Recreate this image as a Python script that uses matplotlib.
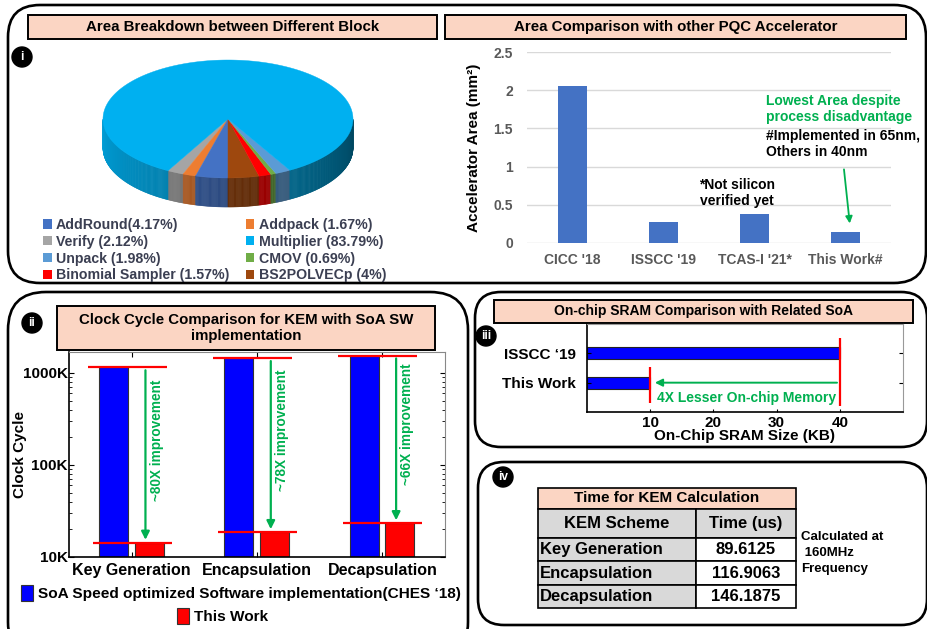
"""Composite figure: area, clock-cycle, SRAM and timing comparison"""

import numpy as np
import matplotlib.pyplot as plt
from matplotlib.patches import FancyBboxPatch, Rectangle, Circle, Polygon, Patch
from matplotlib.collections import PolyCollection
from matplotlib.colors import to_rgb

W, H = 928, 629

# ---- data ----
pie_labels = ["AddRound(4.17%)", "Addpack (1.67%)", "Verify (2.12%)", "Multiplier (83.79%)",
              "Unpack (1.98%)", "CMOV (0.69%)", "Binomial Sampler (1.57%)", "BS2POLVECp (4%)"]
pie_share = [4.17, 1.67, 2.12, 83.79, 1.98, 0.69, 1.57, 4.0]
pie_colors = ["#4472C4", "#ED7D31", "#A5A5A5", "#00B0F0",
              "#5B9BD5", "#70AD47", "#FF0000", "#9E480E"]
# slice order around the pie (counter-clockwise, starting left of the front)
pie_order = [2, 1, 0, 7, 6, 5, 4, 3]
# legend order (two columns, filled column by column)
legend_order = [0, 2, 4, 6, 1, 3, 5, 7]

area_names = ["CICC '18", "ISSCC '19", "TCAS-I '21*", "This Work#"]
area_mm2 = [2.05, 0.27, 0.38, 0.14]

kem_ops = ["Key Generation", "Encapsulation", "Decapsulation"]
soa_cycles = [1147e3, 1444e3, 1543e3]
ours_cycles = [14338, 18705, 23390]
improve = ["~80X improvement", "~78X improvement", "~66X improvement"]

sram_names = ["ISSCC \u201819", "This Work"]
sram_kb = [40, 10]

table_head = ["KEM Scheme", "Time (us)"]
table_rows = [["Key Generation", "89.6125"],
              ["Encapsulation", "116.9063"],
              ["Decapsulation", "146.1875"]]

GREEN = "#00B050"
PINK = "#FBD5C3"

plt.rcParams['font.family'] = ['Liberation Sans', 'DejaVu Sans']
plt.rcParams['font.weight'] = 'bold'


def rect(x0, y0, x1, y1):
    # pixel box (top-left origin) -> figure fraction
    return [x0 / W, 1 - y1 / H, (x1 - x0) / W, (y1 - y0) / H]


fig = plt.figure(figsize=(9.28, 6.29), dpi=100)
bg = fig.add_axes([0, 0, 1, 1])
bg.set_xlim(0, W)
bg.set_ylim(H, 0)
bg.axis('off')


def panel(x0, y0, x1, y1, r):
    bg.add_patch(FancyBboxPatch((x0, y0), x1 - x0, y1 - y0,
                                boxstyle=f"round,pad=0,rounding_size={r}",
                                fc='white', ec='black', lw=1.9))


def title_box(x0, y0, x1, y1, txt, fs=11):
    bg.add_patch(Rectangle((x0, y0), x1 - x0, y1 - y0, fc=PINK, ec='black', lw=1.4))
    bg.text((x0 + x1) / 2, (y0 + y1) / 2, txt, ha='center', va='center',
            fontsize=fs, fontweight='bold', linespacing=1.2)


def badge(x, y, s):
    bg.add_patch(Circle((x, y), 10, fc='black', ec='black'))
    bg.text(x, y, s, color='white', ha='center', va='center', fontsize=8.5,
            fontweight='bold')


# panels
panel(8, 5, 926, 283, 32)
panel(8, 292, 468, 660, 38)
panel(475, 292, 927, 447, 26)
panel(478, 462, 927, 625, 26)

title_box(28, 15, 437, 39, "Area Breakdown between Different Block", 10.8)
title_box(445, 15, 906, 39, "Area Comparison with other PQC Accelerator", 10.8)
title_box(57, 306, 435, 350, "Clock Cycle Comparison for KEM with SoA SW\nimplementation", 10.8)
title_box(494, 300, 913, 323, "On-chip SRAM Comparison with Related SoA", 10)

badge(22, 57, "i")
badge(32, 323, "ii")
badge(486, 336, "iii")
badge(503, 477, "iv")

# ---- (i) 3D pie ----
cx, cy, a, b, depth = 228, 119, 125, 59, 29
ang = 270 - 3.6 * sum(pie_share[i] for i in pie_order[:3])
for idx in pie_order:
    span = 3.6 * pie_share[idx]
    th = np.radians(np.linspace(ang, ang + span, max(int(span * 2), 3)))
    xs = cx + a * np.cos(th)
    ys = cy - b * np.sin(th)
    base = np.array(to_rgb(pie_colors[idx]))
    quads, shades = [], []
    for k in range(len(th) - 1):
        mid = (th[k] + th[k + 1]) / 2
        if np.sin(mid) < 0:
            quads.append([(xs[k], ys[k]), (xs[k + 1], ys[k + 1]),
                          (xs[k + 1], ys[k + 1] + depth), (xs[k], ys[k] + depth)])
            deg = np.degrees(mid) % 360
            f = 0.9 - 0.5 * (deg - 180) / 180
            shades.append(base * f)
    if quads:
        bg.add_collection(PolyCollection(quads, facecolors=shades, edgecolors=shades, lw=0.4))
    pts = np.column_stack([np.r_[cx, xs], np.r_[cy, ys]])
    bg.add_patch(Polygon(pts, closed=True, fc=pie_colors[idx], ec=pie_colors[idx], lw=0.3))
    ang += span

handles = [Patch(fc=pie_colors[i]) for i in legend_order]
bg.legend(handles, [pie_labels[i] for i in legend_order], ncol=2, loc='upper left',
          bbox_to_anchor=(43, 218), bbox_transform=bg.transData, frameon=False,
          prop={'size': 10.2, 'weight': 'bold'}, labelcolor='#3B3F52',
          handlelength=0.62, handleheight=0.62, handletextpad=0.3,
          columnspacing=1.15, labelspacing=0.2, borderaxespad=0, borderpad=0)

# ---- (i) area bars ----
ax1 = fig.add_axes(rect(527, 52, 891, 243))
ax1.set_facecolor('none')
ax1.bar(range(len(area_names)), area_mm2, width=0.32, color='#4472C4', zorder=3)
ax1.set_xlim(-0.5, 3.5)
ax1.set_ylim(0, 2.5)
ax1.set_yticks([0, 0.5, 1, 1.5, 2, 2.5])
ax1.set_yticklabels(['0', '0.5', '1', '1.5', '2', '2.5'])
ax1.set_xticks(range(len(area_names)))
ax1.set_xticklabels(area_names)
ax1.grid(axis='y', color='#D9D9D9', lw=1, zorder=0)
for s in ax1.spines.values():
    s.set_visible(False)
ax1.tick_params(length=0, labelsize=10, labelcolor='#595959')
ax1.tick_params(axis='y', pad=10)
ax1.tick_params(axis='x', pad=7)
ax1.set_ylabel("Accelerator Area (mm\u00b2)", fontsize=11, fontweight='bold')
ax1.yaxis.set_label_coords(-0.125, 0.5)
ax1.text(2.126, 1.75, "Lowest Area despite\nprocess disadvantage", color=GREEN,
         fontsize=10, fontweight='bold', ha='left', va='center')
ax1.text(2.126, 1.30, "#Implemented in 65nm,\nOthers in 40nm", color='black',
         fontsize=10, fontweight='bold', ha='left', va='center')
ax1.text(1.81, 0.65, "*Not silicon\nverified yet", color='black',
         fontsize=10, fontweight='bold', ha='center', va='center')
ax1.annotate('', xy=(3.05, 0.22), xytext=(2.98, 1.0),
             arrowprops=dict(arrowstyle='-|>', color=GREEN, lw=1.3, mutation_scale=10))

# ---- (ii) clock cycles ----
ax2 = fig.add_axes(rect(69, 352, 445, 557))
ax2.set_facecolor('none')
x = np.arange(len(kem_ops))
bw = 0.23
b1 = ax2.bar(x - 0.145, soa_cycles, width=bw, color='#0000FF', edgecolor='#333333', lw=0.8)
b2 = ax2.bar(x + 0.14, ours_cycles, width=bw, color='#FF0000', edgecolor='#333333', lw=0.8)
ax2.set_yscale('log')
ax2.set_ylim(1e4, 1.69e6)
ax2.set_xlim(-0.5, 2.5)
ax2.hlines(soa_cycles, x - 0.35, x + 0.28, color='#FF0000', lw=1.6)
ax2.hlines(ours_cycles, x - 0.31, x + 0.32, color='#FF0000', lw=1.6)
for i in range(len(kem_ops)):
    ax2.annotate('', xy=(x[i] + 0.11, ours_cycles[i]), xytext=(x[i] + 0.11, soa_cycles[i]),
                 arrowprops=dict(arrowstyle='-|>', color=GREEN, lw=1.6, mutation_scale=12))
    ax2.text(x[i] + 0.2, np.sqrt(soa_cycles[i] * ours_cycles[i]) * 1.45, improve[i],
             rotation=90, color=GREEN, fontsize=9.8, fontweight='bold',
             ha='center', va='center')
ax2.set_yticks([1e4, 1e5, 1e6])
ax2.set_yticklabels(['10K', '100K', '1000K'])
ax2.set_xticks(x)
ax2.set_xticklabels(kem_ops)
ax2.tick_params(which='both', direction='in', right=True, top=True, labelsize=11)
ax2.tick_params(axis='y', pad=1)
ax2.tick_params(axis='x', pad=4, labelsize=11.5)
for s in ['top', 'right']:
    ax2.spines[s].set_color('#888888')
for s in ['left', 'bottom']:
    ax2.spines[s].set_linewidth(1.2)
ax2.set_ylabel("Clock Cycle", fontsize=11, fontweight='bold')
ax2.yaxis.set_label_coords(-0.112, 0.5)
leg1 = ax2.legend([b1], ["SoA Speed optimized Software implementation(CHES \u201818)"],
                  loc='center left', bbox_to_anchor=(21, 593), bbox_transform=bg.transData,
                  frameon=False, prop={'size': 11.1, 'weight': 'bold'},
                  handlelength=0.78, handleheight=1.2, handletextpad=0.3,
                  borderaxespad=0, borderpad=0)
ax2.add_artist(leg1)
ax2.legend([b2], ["This Work"], loc='center left', bbox_to_anchor=(177, 616),
           bbox_transform=bg.transData, frameon=False, prop={'size': 11.1, 'weight': 'bold'},
           handlelength=0.78, handleheight=1.2, handletextpad=0.3,
           borderaxespad=0, borderpad=0)

# ---- (iii) SRAM ----
ax3 = fig.add_axes(rect(587, 324, 903, 412))
ax3.set_facecolor('none')
ypos = [1, 0]
ax3.barh(ypos, sram_kb, height=0.4, color='#0000FF', edgecolor='#222222', lw=0.8)
ax3.set_xlim(0, 50)
ax3.set_ylim(-1, 2)
ax3.vlines(sram_kb[0], -0.8, 1.52, color='#FF0000', lw=1.6)
ax3.vlines(sram_kb[1], -0.69, 0.53, color='#FF0000', lw=1.6)
ax3.annotate('', xy=(sram_kb[1] + 0.3, ypos[1]), xytext=(sram_kb[0], ypos[1]),
             arrowprops=dict(arrowstyle='-|>', color=GREEN, lw=1.4, mutation_scale=11))
ax3.text(11.1, -0.52, "4X Lesser On-chip Memory", color=GREEN, fontsize=10,
         fontweight='bold', ha='left', va='center')
ax3.set_yticks(ypos)
ax3.set_yticklabels(sram_names)
ax3.set_xticks([10, 20, 30, 40])
ax3.tick_params(direction='in', right=True, labelsize=11)
ax3.tick_params(axis='y', pad=8, length=3)
ax3.tick_params(axis='x', pad=3, length=2)
for s in ['top', 'right']:
    ax3.spines[s].set_color('#999999')
for s in ['left', 'bottom']:
    ax3.spines[s].set_linewidth(1.2)
ax3.set_xlabel("On-Chip SRAM Size (KB)", fontsize=11, fontweight='bold', labelpad=-1)

# ---- (iv) timing table ----
bg.add_patch(Rectangle((538, 488), 258, 21, fc=PINK, ec='black', lw=1.2))
bg.text(667, 498.5, "Time for KEM Calculation", ha='center', va='center',
        fontsize=11, fontweight='bold')
ax4 = fig.add_axes(rect(538, 509, 796, 608))
ax4.axis('off')
tbl = ax4.table(cellText=table_rows, colLabels=table_head, colWidths=[0.612, 0.388],
                cellLoc='center', bbox=[0, 0, 1, 1])
tbl.auto_set_font_size(False)
tbl.set_fontsize(12)
for (r, c), cell in tbl.get_celld().items():
    cell.set_edgecolor('black')
    cell.set_linewidth(1.2)
    cell.get_text().set_fontweight('bold')
    cell.set_height(29 if r == 0 else 23.3)
    if r == 0 or c == 0:
        cell.set_facecolor('#D9D9D9')
    else:
        cell.set_facecolor('white')
    if r > 0 and c == 0:
        cell.get_text().set_ha('left')
        cell._loc = 'left'
        cell.PAD = 0.012
bg.text(801, 553, "Calculated at\n 160MHz\nFrequency", ha='left', va='center',
        fontsize=9.5, fontweight='bold', linespacing=1.45)

fig.savefig("out.png", dpi=100)
